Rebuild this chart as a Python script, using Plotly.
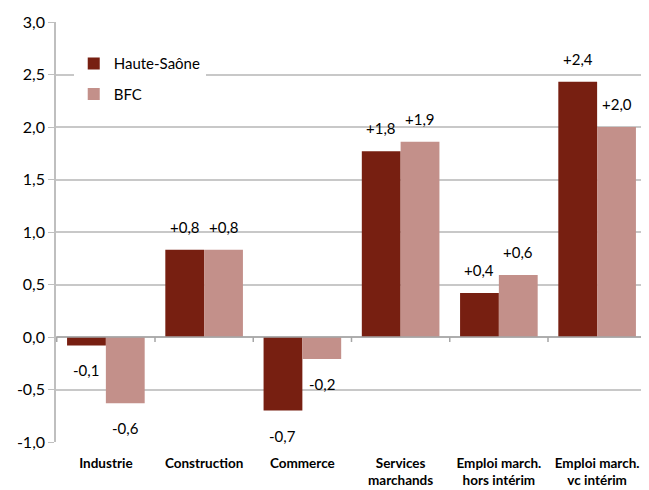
import plotly.graph_objects as go

categories = ["Industrie", "Construction", "Commerce", "Services<br>marchands",
              "Emploi march.<br>hors intérim", "Emploi march.<br>vc intérim"]
haute_saone = [-0.08, 0.83, -0.70, 1.77, 0.42, 2.43]
bfc = [-0.63, 0.83, -0.21, 1.86, 0.59, 2.00]
hs_labels = ["-0,1", "+0,8", "-0,7", "+1,8", "+0,4", "+2,4"]
bfc_labels = ["-0,6", "+0,8", "-0,2", "+1,9", "+0,6", "+2,0"]
y_ticks = [-1.0, -0.5, 0.0, 0.5, 1.0, 1.5, 2.0, 2.5, 3.0]
y_ticktext = ["-1,0", "-0,5", "0,0", "0,5", "1,0", "1,5", "2,0", "2,5", "3,0"]

FONT = "Lato, 'Open Sans', sans-serif"
fig = go.Figure()
fig.add_trace(go.Bar(name="Haute-Saône", x=categories, y=haute_saone, legendgroup="a",
                     marker=dict(color="#771F11", line=dict(width=0))))
fig.add_trace(go.Bar(name="BFC", x=categories, y=bfc, legendgroup="b",
                     marker=dict(color="#C3908A", line=dict(width=0))))

annotations = []
for series, labels, xs in ((haute_saone, hs_labels, -19.5), (bfc, bfc_labels, 19.5)):
    for cat, v, lab in zip(categories, series, labels):
        annotations.append(dict(x=cat, y=v, xref="x", yref="y", text=lab, showarrow=False,
                                xshift=xs, yshift=23 if v >= 0 else -25,
                                xanchor="center", yanchor="middle",
                                font=dict(size=15, color="#000000", family=FONT)))

shapes = [dict(type="line", xref="x", yref="y", x0=-0.5, x1=5.5, y0=0, y1=0,
               line=dict(color="#A6A6A6", width=1.5), layer="above")]
for i in range(7):
    shapes.append(dict(type="line", xref="x", yref="y", ysizemode="pixel", yanchor=0,
                       x0=i - 0.5, x1=i - 0.5, y0=0, y1=-5,
                       line=dict(color="#A6A6A6", width=1.5)))

fig.update_layout(
    width=641, height=482,
    margin=dict(l=48, r=2, t=14, b=46),
    paper_bgcolor="white", plot_bgcolor="white",
    barmode="group", bargap=0.21, bargroupgap=0,
    font=dict(family=FONT, size=15, color="#000000"),
    legend=dict(x=0.03, y=0.94, xanchor="left", yanchor="top",
                bgcolor="white", font=dict(size=15, family=FONT),
                traceorder="grouped", tracegroupgap=8,
                itemwidth=30),
    shapes=shapes,
    annotations=annotations,
    xaxis=dict(showgrid=False, showline=False, ticks="", zeroline=False, tickangle=0,
               tickfont=dict(size=13.5, family=FONT, weight="bold"), ticklabelstandoff=11),
    yaxis=dict(range=[-1, 3], tickvals=y_ticks, ticktext=y_ticktext,
               showgrid=True, gridcolor="#C8C8C8", gridwidth=1.5,
               zeroline=False, showline=True, linecolor="#BFBFBF", linewidth=1.5,
               ticks="outside", ticklen=6, tickcolor="#BFBFBF",
               tickfont=dict(size=16, family=FONT)),
)
fig.write_html("out.html")
